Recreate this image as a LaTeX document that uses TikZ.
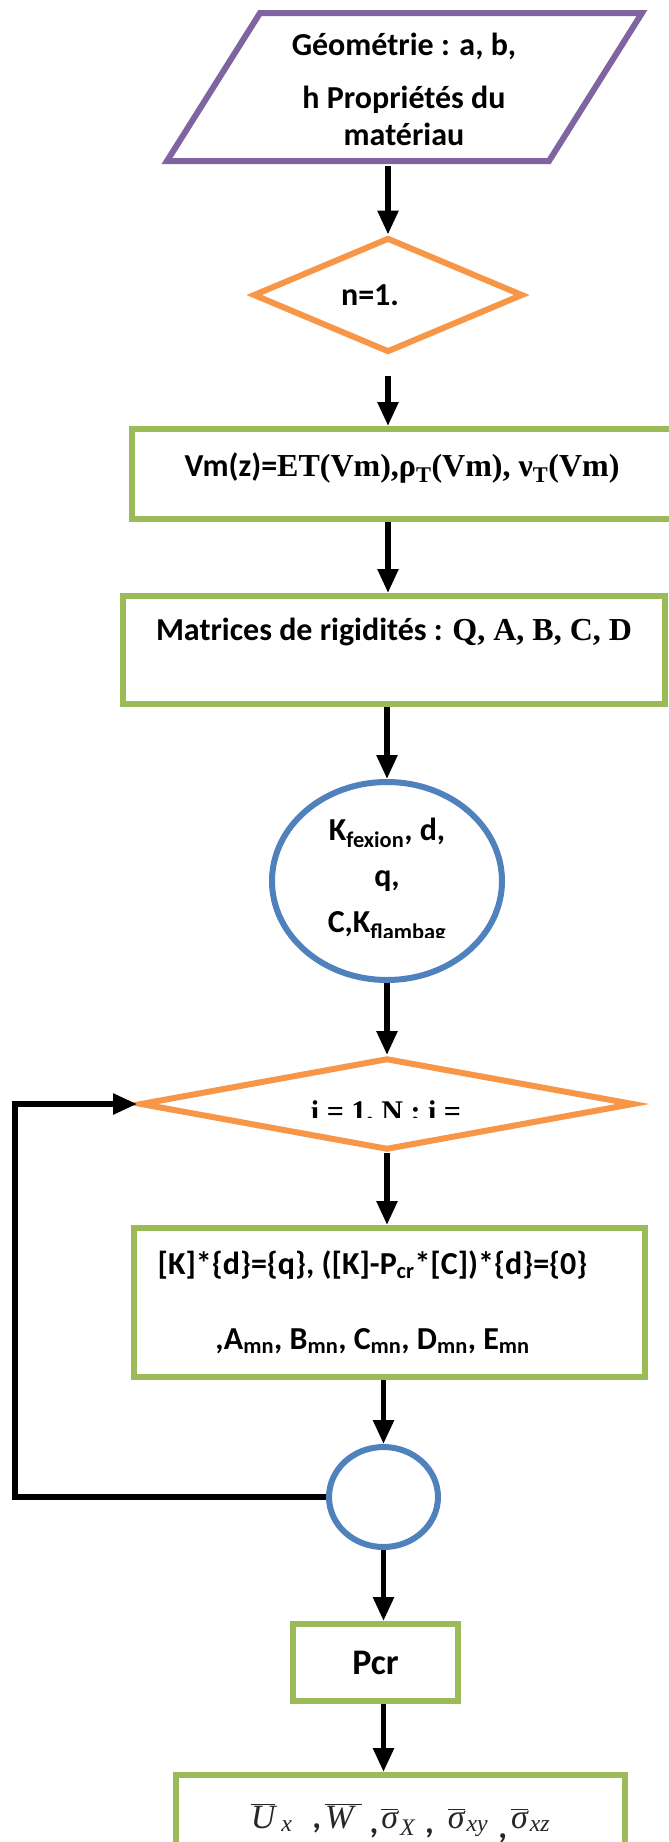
\documentclass[tikz,border=0pt]{standalone}
\usepackage{fontspec}
\setmainfont{Carlito}
\newfontfamily\tms{Liberation Serif}
\usetikzlibrary{shapes.geometric,arrows.meta,calc}

\definecolor{cpurple}{HTML}{8064A2}
\definecolor{corange}{HTML}{F79646}
\definecolor{cgreen}{HTML}{9BBB59}
\definecolor{cblue}{HTML}{4F81BD}

% overlined symbol and bold comma for the result box
\newcommand{\ovl}[1]{\ensuremath{\overline{\hbox{#1}}}}
\newcommand{\rcomma}{{\normalfont\bfseries ,}}

\tikzset{
  stepbox/.style={rectangle, draw=cgreen, line width=6pt, inner xsep=0pt, inner ysep=0pt,
    align=center, font=\bfseries\fontsize{32}{40}\selectfont},
  choice/.style={diamond, draw=corange, line width=6pt, inner sep=0pt},
  oval/.style={ellipse, draw=cblue, line width=6pt, inner sep=0pt},
  arr/.style={line width=5.5pt, -{Triangle[width=20pt,length=24pt]}},
}

\begin{document}
\begin{tikzpicture}[x=1pt,y=-1pt]
\path[use as bounding box, clip] (0,0) rectangle (669,1842);
\fill[white] (0,0) rectangle (669,1842);

% input data (parallelogram)
\draw[cpurple, line width=6pt] (260,13) -- (642,13) -- (549,161) -- (167,161) -- cycle;
\node[inner sep=0pt, minimum height=154pt, align=center,
      font=\bfseries\fontsize{32}{45}\selectfont] (geo) at (404,89)
  {Géométrie : a, b,\\[8pt] h Propriétés du\\[-8pt] matériau};

% n = 1
\node[choice, minimum width=270pt, minimum height=104pt,
      font=\bfseries\fontsize{32}{38}\selectfont] (n1) at (388,295)
  {\raisebox{-7pt}{n=1.}\hspace*{36pt}};

% material law
\node[stepbox, minimum width=540pt, text height=47pt, text depth=43pt] (vm) at (402,474)
  {Vm(z)={\tms\bfseries ET(Vm),ρ\textsubscript{T}(Vm), ν\textsubscript{T}(Vm)}};

% stiffness matrices
\node[stepbox, minimum width=542pt, text height=44pt, text depth=64pt] (mat) at (394,650)
  {Matrices de rigidités : {\tms\bfseries Q, A, B, C, D}};

% operators
\node[oval, minimum width=230pt, minimum height=198pt] (ell) at (387,881) {};
\begin{scope}
  \clip (250,780) rectangle (520,937);
  \node[align=center, font=\bfseries\fontsize{32}{46}\selectfont] (ellt) at (387,881)
    {K\textsubscript{fexion}, d,\\ q,\\ C,K\textsubscript{flambag}};
\end{scope}

% loop test
\node[choice, minimum width=494pt, minimum height=92pt] (d2) at (387,1104) {};
\begin{scope}
  \clip (250,1070) rectangle (520,1117);
  \node[anchor=base, inner sep=0pt, font=\tms\bfseries\fontsize{30}{34}\selectfont] (d2t)
    at (386,1121) {i = 1, N ; i =};
\end{scope}

% systems to solve
\node[stepbox, minimum width=511pt, minimum height=149pt,
      font=\bfseries\fontsize{32}{75}\selectfont] (kbox) at (389.5,1302.5)
  {[K]*\{d\}=\{q\}, ([K]-P\textsubscript{cr}*[C])*\{d\}=\{0\}\hspace*{34pt}\\
   ,A\textsubscript{mn}, B\textsubscript{mn}, C\textsubscript{mn}, D\textsubscript{mn}, E\textsubscript{mn}\hspace*{34pt}};

% loop junction
\node[oval, minimum width=109pt, minimum height=100pt] (circ) at (383.5,1497) {};

% critical load
\node[stepbox, minimum width=165pt, minimum height=77pt,
      font=\bfseries\fontsize{36}{40}\selectfont] (pcr) at (375.5,1662.5) {Pcr};

% results
\node[stepbox, minimum width=449pt, text height=53pt, text depth=100pt,
      font=\tms\fontsize{34}{40}\selectfont, text=black!85] (res) at (400.5,1851.5)
  {\ovl{\itshape U}\hspace{6pt}\textsubscript{\itshape x}\hspace{20pt}\rcomma\hspace{4pt}%
   \ovl{\itshape W\hspace{8pt}}\hspace{8pt}\raisebox{-5pt}{\rcomma}\hspace{3pt}%
   \ovl{\itshape σ}\hspace{2pt}\textsubscript{\itshape X}\hspace{10pt}\raisebox{-5pt}{\rcomma}\hspace{14pt}%
   \ovl{\itshape σ}\hspace{2pt}\textsubscript{\itshape xy}\hspace{10pt}\raisebox{-10pt}{\rcomma}\hspace{4pt}%
   \ovl{\itshape σ}\hspace{2pt}\textsubscript{\itshape xz}};

% connectors
\coordinate (lp) at (15,0);
\draw[arr] (n1.north |- geo.south) -- (n1.north);
\draw[arr, shorten <=21pt] (n1.south) -- (n1.south |- vm.north);
\draw[arr] (n1.south |- vm.south) -- (n1.south |- mat.north);
\draw[arr] (ell.north |- mat.south) -- (ell.north);
\draw[arr] (ell.south) -- (ell.south |- d2.north);
\draw[arr] (d2.south) -- (d2.south |- kbox.north);
\draw[arr] (circ.north |- kbox.south) -- (circ.north);
\draw[arr] (circ.south) -- (circ.south |- pcr.north);
\draw[arr] (circ.south |- pcr.south) -- (circ.south |- res.north);
\draw[arr] (circ.west) -- (circ.west -| lp) |- (d2.west);
\end{tikzpicture}
\end{document}
